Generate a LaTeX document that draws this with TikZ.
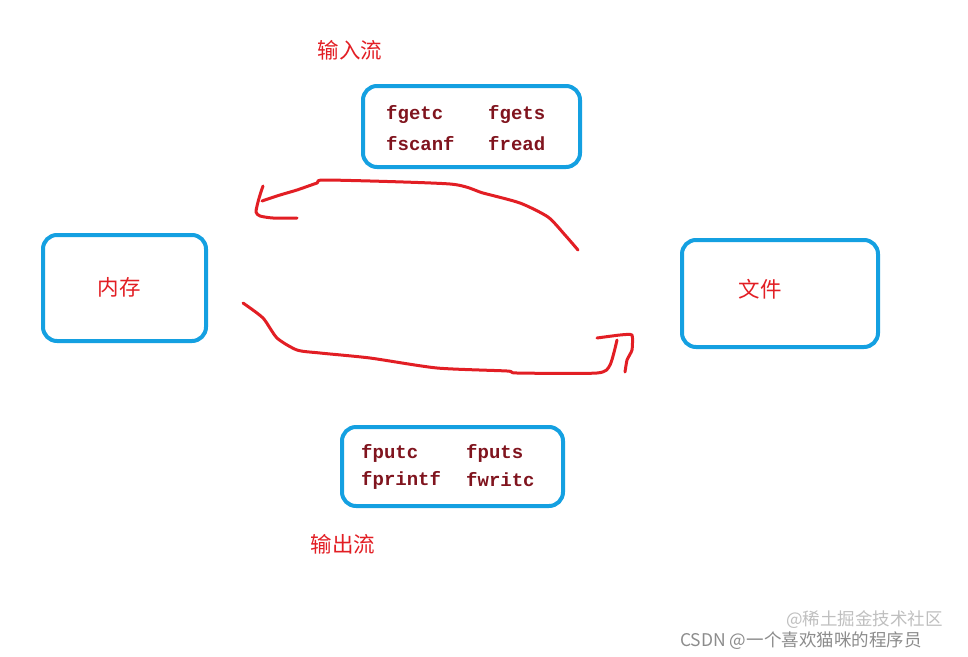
\documentclass[tikz,border=0pt]{standalone}
\usepackage{fontspec}
\newfontfamily\cjk{Noto Sans CJK SC}
\newfontfamily\codefont{Liberation Mono}
\definecolor{boxblue}{RGB}{20,160,225}
\definecolor{penred}{RGB}{226,30,36}
\definecolor{codered}{RGB}{128,20,30}
\tikzset{
  box/.style={draw=boxblue, line width=4pt, rounded corners=14pt},
  lab/.style={text=penred, font=\cjk\fontsize{21.5}{24}\selectfont, inner sep=0pt},
  code/.style={text=codered, font=\codefont\bfseries\fontsize{19}{22}\selectfont, inner sep=0pt, anchor=west},
  pen/.style={draw=penred, line width=3pt, line cap=round, line join=round},
  wm/.style={font=\cjk\fontsize{17.5}{20}\selectfont, inner sep=0pt, anchor=west}
}
\begin{document}
\begin{tikzpicture}[x=1pt,y=-1pt]
\useasboundingbox (0,0) rectangle (968,656);
% boxes
\draw[box] (43,235) rectangle (206,341);
\draw[box] (682,240) rectangle (878,347);
\draw[box] (363,86) rectangle (580,167);
\draw[box] (342,427) rectangle (563,506);
% labels
\node[lab] (mem) at (119,287) {内存};
\node[lab] (file) at (760,289) {文件};
\node[lab] (inlab) at (350,50) {输入流};
\node[lab] (outlab) at (343,544) {输出流};
% code names
\node[code] (fgetc) at (386,114) {fgetc};
\node[code] (fgets) at (488,114) {fgets};
\node[code] (fscanf) at (386,144) {fscanf};
\node[code] (fread) at (488,144) {fread};
\node[code] (fputc) at (361,453) {fputc};
\node[code] (fputs) at (466,453) {fputs};
\node[code] (fprintf) at (361,480) {fprintf};
\node[code] (fwrite) at (466,480) {fwritc};
% input stream stroke
\coordinate (inS) at (578,250);
\coordinate (inE) at (262,201);
\draw[pen] plot[smooth, tension=0.4] coordinates {(inS) (565,235) (548,217) (520,203) (483,193) (450,184) (327,180) (317,183) (297,190) (280,195) (inE)};
\draw[pen] plot[smooth, tension=0.4] coordinates {(263,186) (260,195) (258,202) (256,212) (260,216) (273,218) (297,218)};
% output stream stroke
\coordinate (outS) at (243,303);
\coordinate (outE) at (617,340);
\draw[pen] plot[smooth, tension=0.4] coordinates {(outS) (263,318) (277,338) (297,350) (320,353) (370,358) (437,368) (507,371) (517,373) (597,373) (610,365) (outE)};
\draw[pen] plot[smooth, tension=0.3] coordinates {(597,338) (620,335) (632,335) (632,350) (627,360) (625,372)};
% watermarks
\node[wm, text=black!25] (wm2) at (786,620) {@稀土掘金技术社区};
\node[wm, text=black!45] (wm1) at (680,641) {CSDN @一个喜欢猫咪的程序员};
\end{tikzpicture}
\end{document}
